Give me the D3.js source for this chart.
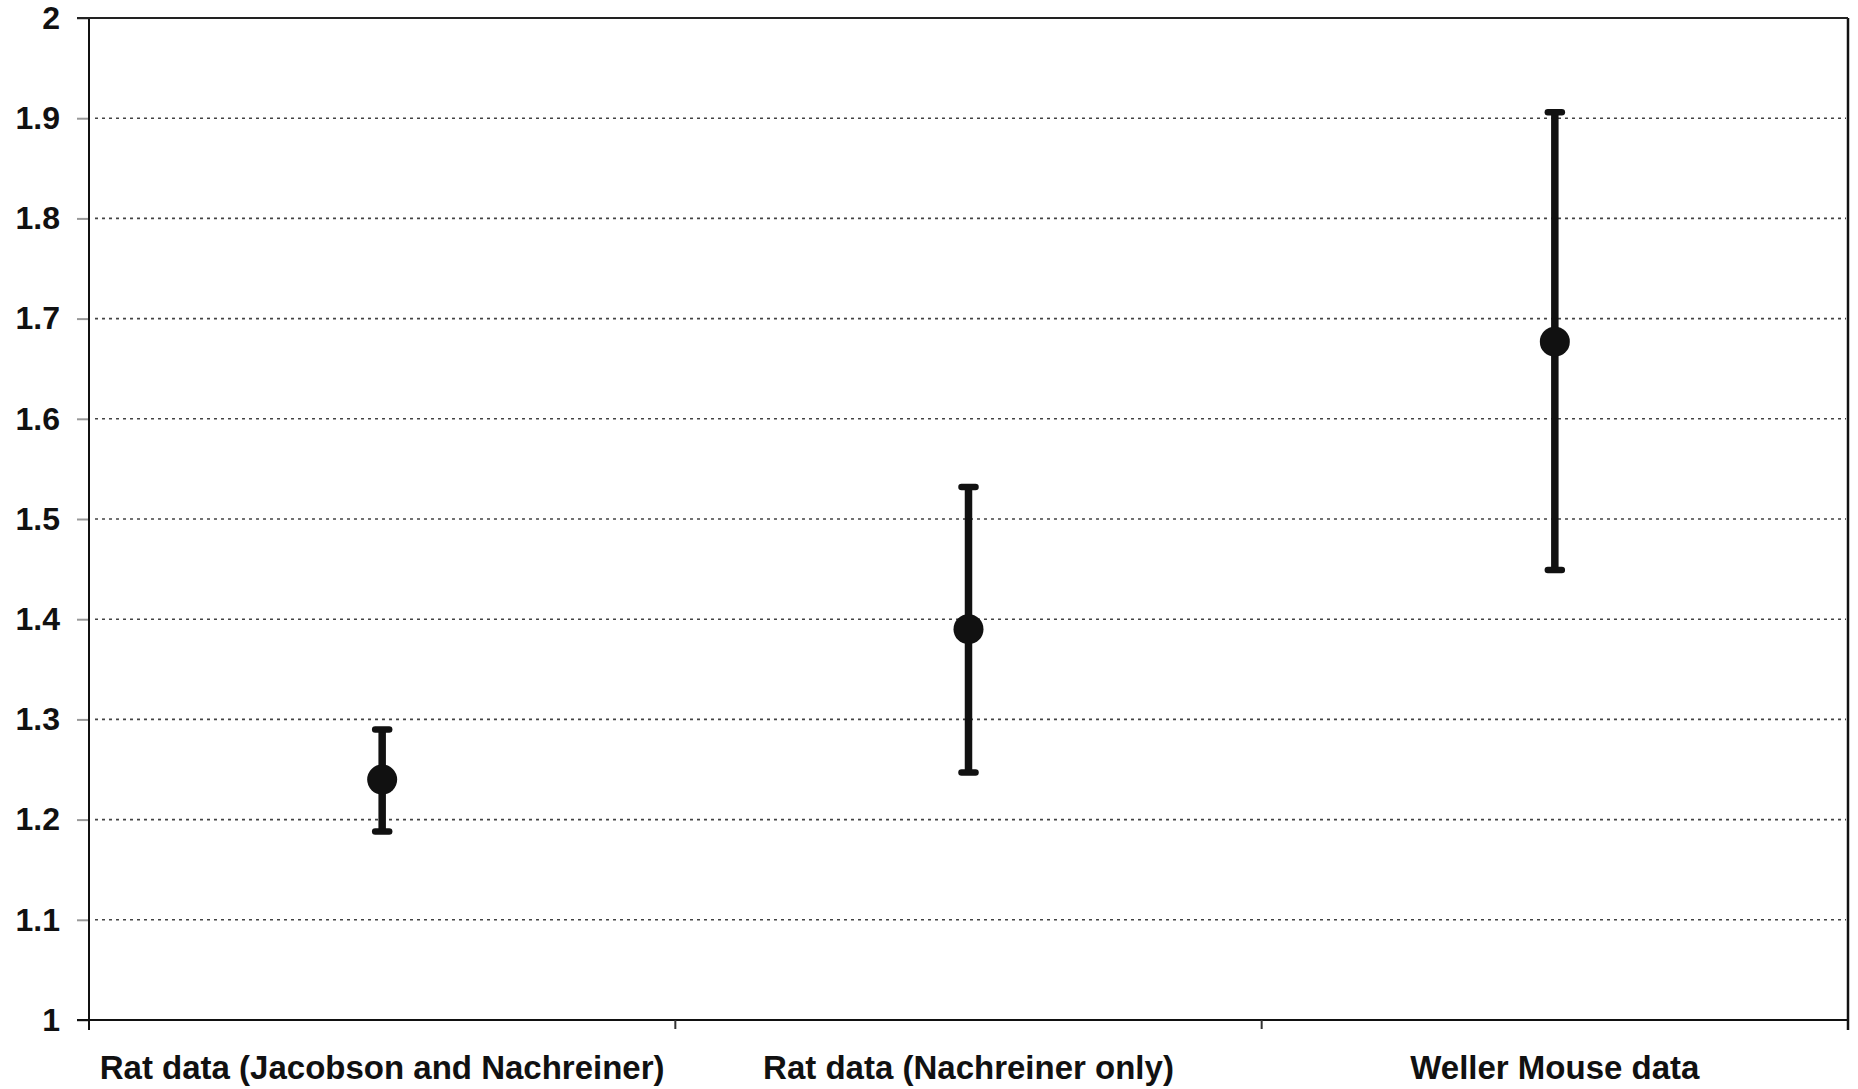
<!DOCTYPE html>
<html>
<head>
<meta charset="utf-8">
<script src="https://cdn.jsdelivr.net/npm/d3@7"></script>
<style>
  html, body { margin: 0; padding: 0; background: #fff; }
  svg { display: block; }
  text { font-family: "Liberation Sans", Arial, sans-serif; font-weight: bold; fill: #111; }
</style>
</head>
<body>
<svg id="chart" width="1858" height="1089"></svg>
<script>
// Group labels along the x axis
const categories = [
  "Rat data (Jacobson and Nachreiner)",
  "Rat data (Nachreiner only)",
  "Weller Mouse data"
];
// Central estimate and the lower / upper ends of each interval
const means = [1.24, 1.39, 1.677];
const lower = [1.188, 1.247, 1.449];
const upper = [1.29, 1.532, 1.906];
// Y axis ticks
const yTicks = [1, 1.1, 1.2, 1.3, 1.4, 1.5, 1.6, 1.7, 1.8, 1.9, 2];

const svg = d3.select("#chart");
const plotL = 89, plotR = 1848, plotT = 18, plotB = 1020;

const x = d3.scaleBand().domain(categories).range([plotL, plotR]).padding(0);
const y = d3.scaleLinear().domain([1, 2]).range([plotB, plotT]);

// Dotted horizontal gridlines
svg.append("g")
  .selectAll("line")
  .data(yTicks.filter(t => t > 1 && t < 2))
  .join("line")
  .attr("x1", plotL + 6).attr("x2", plotR - 2)
  .attr("y1", d => y(d)).attr("y2", d => y(d))
  .attr("stroke", "#444")
  .attr("stroke-width", 1.6)
  .attr("stroke-dasharray", "3,4");

// Y axis with short outside ticks
const yAxis = d3.axisLeft(y).tickValues(yTicks)
  .tickFormat(d3.format("~g")).tickSize(12).tickPadding(17);
const gy = svg.append("g").attr("transform", `translate(${plotL},0)`).call(yAxis);
gy.select(".domain").remove();
gy.selectAll(".tick line").attr("stroke", "#999").attr("stroke-width", 2);
gy.selectAll(".tick text").attr("font-size", 32)
  .style("font-family", "'Liberation Sans', Arial, sans-serif")
  .style("font-weight", "bold").attr("fill", "#111");

// Plot frame
svg.append("line").attr("x1", plotL).attr("x2", plotL).attr("y1", plotT).attr("y2", plotB + 10)
  .attr("stroke", "#111").attr("stroke-width", 2);
svg.append("line").attr("x1", plotR).attr("x2", plotR).attr("y1", plotT).attr("y2", plotB + 10)
  .attr("stroke", "#111").attr("stroke-width", 2.5);
svg.append("line").attr("x1", plotL - 12).attr("x2", plotR).attr("y1", plotT).attr("y2", plotT)
  .attr("stroke", "#222").attr("stroke-width", 2);

// X axis: ticks at category boundaries, labels centred in each band
const gx = svg.append("g").attr("transform", `translate(0,${plotB})`);
gx.append("line").attr("x1", plotL - 12).attr("x2", plotR).attr("y1", 0).attr("y2", 0)
  .attr("stroke", "#111").attr("stroke-width", 2);
gx.selectAll("line.sep")
  .data(categories.slice(1))
  .join("line").attr("class", "sep")
  .attr("x1", d => x(d)).attr("x2", d => x(d))
  .attr("y1", 0).attr("y2", 9)
  .attr("stroke", "#333").attr("stroke-width", 2);
gx.selectAll("text")
  .data(categories)
  .join("text")
  .attr("x", d => x(d) + x.bandwidth() / 2)
  .attr("y", 59)
  .attr("text-anchor", "middle")
  .attr("font-size", 33)
  .text(d => d);

// Error bars with caps and filled markers
const g = svg.append("g");
categories.forEach((c, i) => {
  const cx = x(c) + x.bandwidth() / 2;
  g.append("line").attr("x1", cx).attr("x2", cx)
    .attr("y1", y(lower[i])).attr("y2", y(upper[i]))
    .attr("stroke", "#111").attr("stroke-width", 7.5);
  [lower[i], upper[i]].forEach(v => {
    g.append("line").attr("x1", cx - 7).attr("x2", cx + 7)
      .attr("y1", y(v)).attr("y2", y(v))
      .attr("stroke", "#111").attr("stroke-width", 6.5)
      .attr("stroke-linecap", "round");
  });
  g.append("circle").attr("cx", cx).attr("cy", y(means[i])).attr("r", 15)
    .attr("fill", "#111");
});
</script>
</body>
</html>
